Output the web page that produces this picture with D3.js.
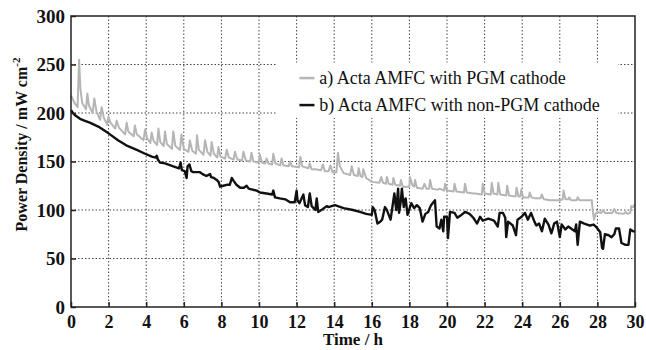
<!DOCTYPE html>
<html>
<head>
<meta charset="utf-8">
<script src="https://cdn.jsdelivr.net/npm/d3@7"></script>
</head>
<body style="margin:0">
<script>
// ticks
const xTicks = [0, 2, 4, 6, 8, 10, 12, 14, 16, 18, 20, 22, 24, 26, 28, 30];
const yTicks = [0, 50, 100, 150, 200, 250, 300];
const seriesNames = ['a) Acta AMFC with PGM cathode', 'b) Acta AMFC with non-PGM cathode'];

// a) PGM cathode  [time h, power density]
const pgmData = [[0,218],[0.1,214],[0.2,210],[0.35,206],[0.43,255],[0.5,225],[0.6,210],[0.8,204],[0.87,220],[0.95,208],[1.15,200],[1.24,215],[1.35,202],[1.55,193],[1.63,206],[1.75,195],[1.92,188],[1.99,196],[2.1,190],[2.35,184],[2.43,192],[2.55,185],[2.88,178],[2.96,190],[3.05,181],[3.33,176],[3.4,187],[3.5,178],[3.86,172],[3.94,183],[4.05,174],[4.22,169],[4.29,180],[4.4,171],[4.58,167],[4.65,184],[4.75,170],[4.93,166],[5.0,181],[5.1,168],[5.37,163],[5.44,181],[5.55,166],[5.8,162],[5.87,178],[6.0,163],[6.25,160],[6.32,172],[6.45,161],[6.65,158],[6.7,177],[6.8,162],[7.05,157],[7.13,172],[7.25,160],[7.42,156],[7.48,170],[7.6,158],[7.78,154],[7.84,165],[7.95,155],[8.2,153],[8.28,162],[8.4,154],[8.65,152],[8.72,160],[8.85,152],[9.1,151],[9.17,160],[9.3,151],[9.53,150],[9.6,159],[9.7,150],[9.98,149],[10.05,157],[10.15,149],[10.33,148],[10.4,153],[10.5,148],[10.7,147],[10.76,158],[10.87,148],[11.13,146],[11.2,153],[11.3,146],[11.58,145],[11.65,150],[11.75,145],[12.13,144],[12.2,155],[12.3,145],[12.63,143],[12.7,148],[12.8,142],[13.0,142],[13.3,141],[13.4,147],[13.5,140],[13.7,140],[13.8,146],[13.9,139],[14.12,139],[14.2,159],[14.3,145],[14.5,138],[14.85,136],[14.93,145],[15.05,136],[15.25,135],[15.3,143],[15.4,135],[15.5,134],[15.55,142],[15.7,133],[16.0,129],[16.4,128],[16.5,134],[16.6,128],[16.75,127],[16.8,134],[16.9,127],[17.1,126],[17.15,133],[17.25,126],[17.5,125],[17.55,131],[17.65,124],[18.0,124],[18.03,134],[18.15,126],[18.25,124],[18.3,131],[18.4,123],[18.7,122],[18.8,127],[18.9,122],[19.05,122],[19.1,131],[19.2,122],[19.5,121],[19.6,122],[19.85,120],[19.9,127],[20.0,120],[20.35,119],[20.4,127],[20.5,119],[20.9,118],[20.96,127],[21.05,118],[21.4,117],[21.5,117],[21.85,116],[21.9,127],[22.0,117],[22.33,116],[22.38,128],[22.48,117],[22.68,116],[22.73,128],[22.83,116],[23.15,115],[23.2,125],[23.3,115],[23.65,114],[23.7,123],[23.8,114],[23.9,114],[23.95,121],[24.05,113],[24.35,113],[24.4,118],[24.5,113],[24.7,112],[24.98,112],[25.04,116],[25.15,111],[25.5,110],[26.0,110],[26.15,111],[26.2,120],[26.3,111],[26.45,111],[26.5,113],[26.6,110],[26.9,110],[26.95,113],[27.05,110],[27.5,110],[27.7,110],[27.75,100],[27.82,90],[27.9,96],[28.0,98],[28.2,97],[28.3,100],[28.4,97],[28.8,97],[28.9,101],[29.0,97],[29.4,96],[29.5,98],[29.6,96],[29.75,97],[29.8,104],[29.9,103],[30,106]];

// b) non-PGM cathode
const nonPgmData = [[0,203],[0.1,200],[0.2,198],[0.48,194],[0.74,192],[1.0,190],[1.45,186],[2.0,179],[2.5,172],[3.0,166],[3.5,162],[3.94,158],[4.3,155],[4.5,154],[4.56,156],[4.62,152],[4.73,149],[5.0,148],[5.44,145],[5.75,143],[5.83,149],[5.9,141],[6.05,140],[6.15,133],[6.2,145],[6.3,147],[6.4,140],[6.5,139],[6.86,139],[7.0,137],[7.2,135],[7.4,137],[7.45,134],[7.6,133],[7.75,131],[7.85,129],[7.93,124],[8.1,125],[8.28,126],[8.45,126],[8.55,133],[8.65,130],[8.8,126],[9.0,123],[9.2,123],[9.34,125],[9.45,122],[9.88,120],[10.05,118],[10.4,117],[10.7,116],[10.76,120],[10.85,113],[11.1,112],[11.4,111],[11.65,108],[11.9,108],[12.0,120],[12.05,110],[12.15,107],[12.36,116],[12.45,105],[12.6,103],[12.7,117],[12.8,104],[13.0,100],[13.07,112],[13.15,98],[13.4,101],[13.6,104],[13.7,103],[13.86,104],[14.04,105],[14.5,102],[15.0,100],[15.37,98],[15.7,96],[16.0,95],[16.05,103],[16.15,100],[16.3,86],[16.45,88],[16.55,90],[16.7,103],[16.8,100],[16.9,95],[17.0,90],[17.2,117],[17.3,100],[17.4,122],[17.45,97],[17.55,110],[17.6,122],[17.7,103],[17.8,112],[17.9,95],[18.1,107],[18.25,102],[18.4,105],[18.55,102],[18.7,88],[18.85,96],[19.0,98],[19.15,105],[19.36,110],[19.45,83],[19.6,81],[19.7,90],[19.8,78],[19.85,93],[20.0,93],[20.05,71],[20.16,98],[20.4,97],[20.55,92],[20.7,94],[20.96,98],[21.2,96],[21.4,92],[21.6,86],[21.76,93],[21.9,89],[22.2,91],[22.5,89],[22.7,83],[22.8,97],[22.98,97],[23.1,92],[23.15,72],[23.25,88],[23.5,84],[23.67,74],[23.75,90],[23.97,93],[24.15,97],[24.3,90],[24.47,97],[24.65,88],[24.75,84],[24.9,86],[25.05,78],[25.2,91],[25.4,85],[25.55,76],[25.6,79],[25.7,86],[25.85,88],[26.0,72],[26.1,85],[26.3,80],[26.45,83],[26.6,81],[26.8,78],[26.87,85],[26.95,64],[27.07,88],[27.3,86],[27.6,84],[27.8,85],[27.96,82],[28.15,77],[28.25,61],[28.3,60],[28.4,75],[28.6,74],[28.75,72],[28.9,75],[28.98,81],[29.15,81],[29.28,66],[29.5,64],[29.65,64],[29.75,80],[29.9,78],[30,78]];

const margin = { top: 16, right: 11, bottom: 43, left: 71 },
  width = 646 - margin.left - margin.right,
  height = 350 - margin.top - margin.bottom;

const svg = d3.select('body').append('svg')
  .attr('width', 646)
  .attr('height', 350);
const g = svg.append('g')
  .attr('transform', 'translate(' + margin.left + ',' + margin.top + ')');

const x = d3.scaleLinear().domain([0, 30]).range([0, width]);
const y = d3.scaleLinear().domain([0, 300]).range([height, 0]);

// sets the serif face on a text selection
function serif(sel, size, bold) {
  sel.attr('font-family', 'Liberation Serif')
    .style('font-family', "'Liberation Serif'")
    .attr('font-size', size)
    .attr('font-weight', bold ? 'bold' : 'normal')
    .attr('fill', '#111');
}

// grid
g.append('g').selectAll('line')
  .data(xTicks.slice(1, -1))
  .enter().append('line')
  .attr('x1', d => x(d)).attr('x2', d => x(d))
  .attr('y1', 0).attr('y2', height)
  .attr('stroke', '#444').attr('stroke-width', 1)
  .attr('stroke-dasharray', '1.5,2');
g.append('g').selectAll('line')
  .data(yTicks.slice(1, -1))
  .enter().append('line')
  .attr('x1', 0).attr('x2', width)
  .attr('y1', d => y(d)).attr('y2', d => y(d))
  .attr('stroke', '#444').attr('stroke-width', 1)
  .attr('stroke-dasharray', '1.5,2');

// legend background hides the grid
g.append('rect')
  .attr('x', x(10.95)).attr('y', y(252))
  .attr('width', x(29.1) - x(10.95)).attr('height', y(195) - y(252))
  .attr('fill', '#fff');

// lines
const line = d3.line()
  .x(d => x(d[0]))
  .y(d => y(d[1]));

g.append('path')
  .attr('d', line(pgmData))
  .attr('fill', 'none')
  .attr('stroke', '#b5b5b5')
  .attr('stroke-width', 2)
  .attr('stroke-linejoin', 'round');

g.append('path')
  .attr('d', line(nonPgmData))
  .attr('fill', 'none')
  .attr('stroke', '#111')
  .attr('stroke-width', 2.4)
  .attr('stroke-linejoin', 'round');

// axes
const xAxis = d3.axisBottom(x).tickValues(xTicks).tickSize(-5).tickPadding(8);
const yAxis = d3.axisLeft(y).tickValues(yTicks).tickSize(-5).tickPadding(6);

const gx = g.append('g')
  .attr('transform', 'translate(0,' + height + ')')
  .call(xAxis);
const gy = g.append('g').call(yAxis);

[gx, gy].forEach(a => {
  a.attr('font-family', null).attr('font-size', null);
  a.select('.domain').remove();
  a.selectAll('line').attr('stroke', '#222').attr('stroke-width', 1.5);
  a.selectAll('text').call(serif, 18, true);
});
gy.selectAll('text').attr('font-size', 19);

// frame
g.append('rect')
  .attr('width', width).attr('height', height)
  .attr('fill', 'none')
  .attr('stroke', '#222')
  .attr('stroke-width', 1.5);

// axis titles
g.append('text')
  .attr('x', width / 2)
  .attr('y', height + 38)
  .attr('text-anchor', 'middle')
  .call(serif, 17, true)
  .text('Time / h');

const yt = g.append('text')
  .attr('transform', 'translate(-44,' + (height / 2 - 17) + ') rotate(-90)')
  .attr('text-anchor', 'middle')
  .call(serif, 16, true);
yt.append('tspan').text('Power Density / mW cm');
yt.append('tspan').attr('dy', -7).attr('font-size', 11).text('-2');

// legend
const legend = g.append('g');
const legColors = ['#b5b5b5', '#111'];
seriesNames.forEach((name, i) => {
  const ly = y(236) + i * 27;
  legend.append('line')
    .attr('x1', x(12.15)).attr('x2', x(12.95))
    .attr('y1', ly).attr('y2', ly)
    .attr('stroke', legColors[i]).attr('stroke-width', 2.5);
  legend.append('text')
    .attr('x', x(13.2)).attr('y', ly + 6)
    .call(serif, 18, false)
    .text(name);
});
</script>
</body>
</html>
